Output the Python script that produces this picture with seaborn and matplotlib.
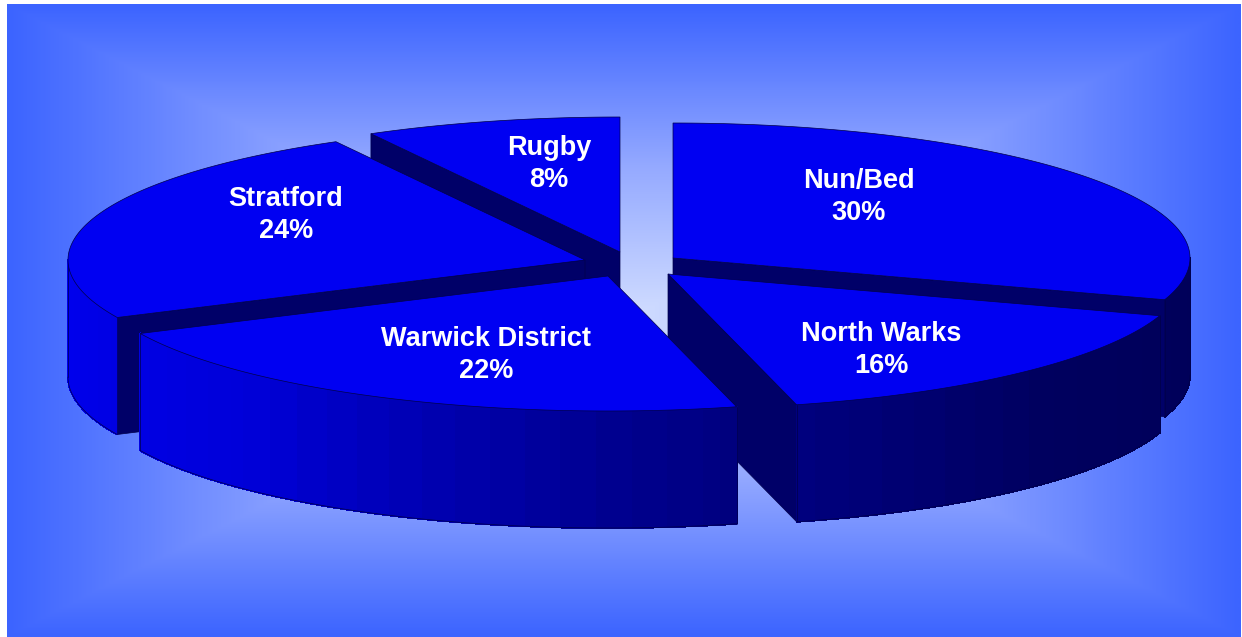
import numpy as np
import matplotlib
matplotlib.use("Agg")
import matplotlib.pyplot as plt
from matplotlib.colors import LinearSegmentedColormap
from matplotlib.patches import Polygon
import seaborn as sns

# Share of the total per district, clockwise from twelve o'clock
districts = ["Nun/Bed", "North Warks", "Warwick District", "Stratford", "Rugby"]
shares = [30, 16, 22, 24, 8]

# Exploded wedge tips, in figure pixels
tip_x = [673, 668, 608, 585, 620]
tip_y = [258, 274, 276, 260, 252]

# Label anchors, in figure pixels
label_x = [859, 881, 486, 286, 549]
label_y = [197, 350, 355, 215, 164]

RX, RY = 517, 135     # ellipse radii of the tilted disc
DEPTH = 117           # extrusion height
TOP = "#0000F2"
WALL = "#000068"
EDGE = "#00004A"
PAINT_ORDER = [4, 3, 0, 1, 2]  # back to front

sns.set_theme(style="white")
plt.rcParams["font.family"] = ["Liberation Sans", "DejaVu Sans"]

fig = plt.figure(figsize=(12.42, 6.37), dpi=100, facecolor="white")
ax = fig.add_axes([0, 0, 1, 1])
ax.axis("off")

# Rectangular-path gradient backdrop
left, right, top, bottom = 7, 1241, 4, 637
cx, cy = (left + right) / 2, (top + bottom) / 2
xx, yy = np.meshgrid(np.linspace(left, right, 620), np.linspace(top, bottom, 320))
path = np.maximum(np.abs(xx - cx) / (right - left) * 2, np.abs(yy - cy) / (bottom - top) * 2)
backdrop = LinearSegmentedColormap.from_list(
    "backdrop", sns.blend_palette(["#D2DEFF", "#93A8FF", "#3C64FF"], 64)
)
ax.imshow(path, cmap=backdrop, vmin=0, vmax=1, extent=(left, right, bottom, top),
          aspect="auto", interpolation="bilinear", zorder=0)
ax.set_xlim(0, 1242)
ax.set_ylim(637, 0)

# Rim shading runs from bright on the left of the disc to dark on the right
rim_shades = sns.blend_palette(
    ["#0000EE", "#0000D8", "#00008C", "#00005E", "#000058"], 48
)


def rim(tx, ty, angle):
    rad = np.deg2rad(angle)
    return tx + RX * np.sin(rad), ty - RY * np.cos(rad)


def rim_shade(angle):
    t = np.clip((270 - angle) / 180, 0, 1)
    return rim_shades[int(t * (len(rim_shades) - 1))]


edges = np.cumsum([0] + shares) * 3.6
z = 1
for i in PAINT_ORDER:
    tx, ty = tip_x[i], tip_y[i]
    a0, a1 = edges[i], edges[i + 1]

    # Cut faces that turn toward the viewer
    for angle, visible in ((a0, 180 < a0 < 360), (a1, 0 < a1 < 180)):
        if visible:
            rx, ry = rim(tx, ty, angle)
            ax.add_patch(Polygon([(tx, ty), (rx, ry), (rx, ry + DEPTH), (tx, ty + DEPTH)],
                                 closed=True, fc=WALL, ec=EDGE, lw=0.5, zorder=z))
            z += 1

    # Curved outer face, as narrow shaded strips along the front of the disc
    lo, hi = max(a0, 90), min(a1, 270)
    if hi > lo:
        steps = np.linspace(lo, hi, int((hi - lo) / 2) + 2)
        for s0, s1 in zip(steps[:-1], steps[1:]):
            x0, y0 = rim(tx, ty, s0)
            x1, y1 = rim(tx, ty, s1)
            shade = rim_shade((s0 + s1) / 2)
            ax.add_patch(Polygon([(x0, y0), (x1, y1), (x1, y1 + DEPTH), (x0, y0 + DEPTH)],
                                 closed=True, fc=shade, ec=shade, lw=0.8,
                                 antialiased=False, zorder=z))
        z += 1
        arc = np.linspace(lo, hi, 120)
        ax_x, ax_y = rim(tx, ty, arc)
        ax.plot(ax_x, ax_y + DEPTH, color=EDGE, lw=0.5, zorder=z)
        for angle in (lo, hi):
            ex, ey = rim(tx, ty, angle)
            ax.plot([ex, ex], [ey, ey + DEPTH], color=EDGE, lw=0.5, zorder=z)
        z += 1

    # Top face of the wedge
    arc = np.linspace(a0, a1, 160)
    ax_x, ax_y = rim(tx, ty, arc)
    outline = np.column_stack([np.r_[tx, ax_x], np.r_[ty, ax_y]])
    ax.add_patch(Polygon(outline, closed=True, fc=TOP, ec=EDGE, lw=0.5, zorder=z))
    z += 1

for name, share, lx, ly in zip(districts, shares, label_x, label_y):
    ax.text(lx, ly, f"{name}\n{share}%", color="white", fontsize=19.5, fontweight="bold",
            ha="center", va="center", linespacing=1.28, zorder=z)

fig.savefig("out.png", dpi=100)
